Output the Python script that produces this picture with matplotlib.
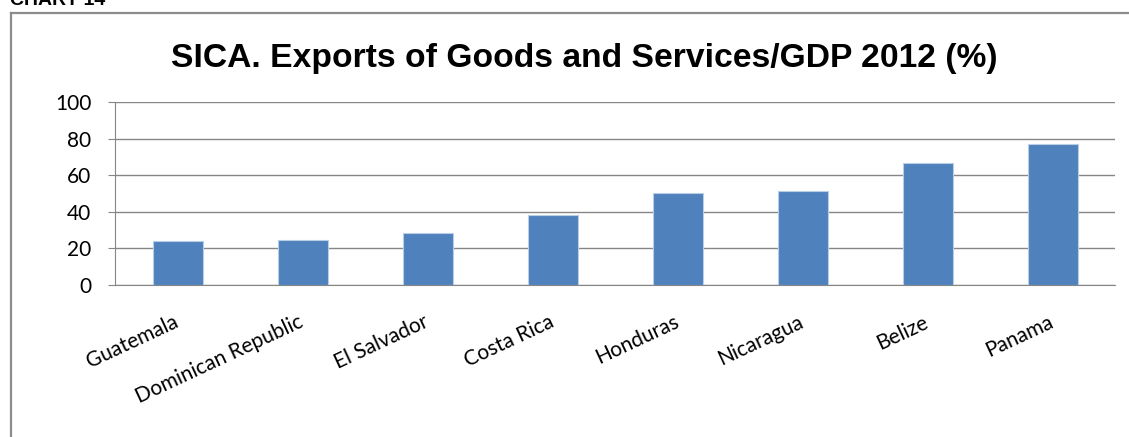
import matplotlib.pyplot as plt
from matplotlib.lines import Line2D

countries = ["Guatemala", "Dominican Republic", "El Salvador", "Costa Rica",
             "Honduras", "Nicaragua", "Belize", "Panama"]
exports_gdp = [24.0, 24.8, 28.3, 38.0, 50.5, 51.2, 66.4, 77.3]
y_ticks = [0, 20, 40, 60, 80, 100]

W, H = 1129, 437
fig = plt.figure(figsize=(W / 100, H / 100), dpi=100)

# chart frame (only left and top edges fall inside the page)
fx = 11 / W
fy = 1 - 12.5 / H
fig.add_artist(Line2D([fx, fx], [0, fy], transform=fig.transFigure,
                      color="#8c8c8c", lw=1.6))
fig.add_artist(Line2D([fx, 1], [fy, fy], transform=fig.transFigure,
                      color="#8c8c8c", lw=1.6))

# caption sitting above the frame, mostly cut off by the page edge
fig.text(10 / W, 1 - 5 / H, "CHART 14", fontsize=14, fontweight="bold",
         family="Liberation Sans", ha="left", va="baseline")

ax = fig.add_axes([115 / W, 1 - 285 / H, 1000 / W, 183 / H])

x = range(len(countries))
ax.bar(x, exports_gdp, width=0.4, color="#4f81bd", edgecolor="#b9cde5",
       linewidth=0.8, zorder=3)

ax.set_xlim(-0.5, len(countries) - 0.5)
ax.set_ylim(0, 100)
ax.set_yticks(y_ticks)
ax.yaxis.grid(True, color="#868686", lw=1.0, zorder=0)
ax.tick_params(axis="y", length=5, color="#868686", labelsize=15, pad=12)
for lbl in ax.get_yticklabels():
    lbl.set_family("Lato")

ax.set_xticks(list(x))
ax.set_xticklabels(countries, rotation=25, ha="right", va="center",
                   rotation_mode="anchor", family="Lato", fontsize=15)
ax.tick_params(axis="x", length=0, pad=26)

for side in ["top", "right"]:
    ax.spines[side].set_visible(False)
ax.spines["left"].set_color("#868686")
ax.spines["bottom"].set_color("#868686")

fig.text(584 / W, 1 - 58 / H, "SICA. Exports of Goods and Services/GDP 2012 (%)",
         fontsize=24.2, fontweight="bold", family="Liberation Sans",
         ha="center", va="center")

fig.savefig("out.png", dpi=100)
